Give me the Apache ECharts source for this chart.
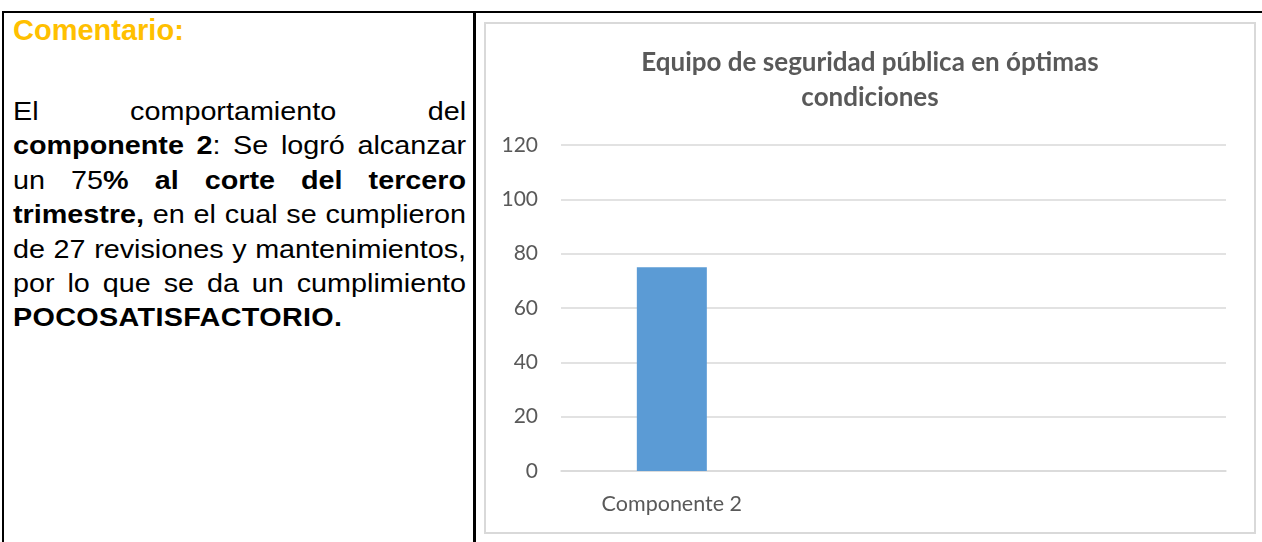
<!DOCTYPE html>
<html>
<head>
<meta charset="utf-8">
<script src="https://cdn.jsdelivr.net/npm/echarts@6/dist/echarts.min.js"></script>
<style>
  html, body { margin:0; padding:0; background:#fff; width:1262px; height:542px; overflow:hidden; }
  .ln { position:absolute; background:#000; }
  #comment { position:absolute; left:13px; top:13px; font-family:"Liberation Sans", Arial, sans-serif; font-weight:bold; font-size:29px; line-height:34px; color:#FFC000; white-space:nowrap; }
  #body { position:absolute; left:13px; top:94px; width:394px; transform:scaleX(1.15); transform-origin:0 0; font-family:"Liberation Sans", Arial, sans-serif; font-size:25px; color:#000; }
  #body .l { height:34.4px; line-height:34.4px; white-space:nowrap; text-align:justify; text-align-last:justify; }
  #body .l.last { text-align:left; text-align-last:left; letter-spacing:0.3px; }
  #chart { position:absolute; left:484px; top:22px; width:772px; height:512px; box-sizing:border-box; border:2px solid #d9d9d9; }
</style>
</head>
<body>
<div class="ln" style="left:2px; top:11px; width:1260px; height:2px;"></div>
<div class="ln" style="left:2px; top:11px; width:2px; height:531px;"></div>
<div class="ln" style="left:473px; top:11px; width:2.5px; height:531px;"></div>

<div id="comment">Comentario:</div>
<div id="body">
  <div class="l">El comportamiento del</div>
  <div class="l"><b>componente 2</b>: Se logró alcanzar</div>
  <div class="l">un 75<b>% al corte del tercero</b></div>
  <div class="l"><b>trimestre,</b> en el cual se cumplieron</div>
  <div class="l">de 27 revisiones y mantenimientos,</div>
  <div class="l">por lo que se da un cumplimiento</div>
  <div class="l last"><b>POCOSATISFACTORIO.</b></div>
</div>

<div id="chart"></div>
<script>
var chartTitle = 'Equipo de seguridad pública en óptimas\ncondiciones';
var categories = ['Componente 2', '', ''];
var values = [75, null, null];
var yMin = 0, yMax = 120, yStep = 20;

var chart = echarts.init(document.getElementById('chart'), null, { renderer: 'canvas' });
chart.setOption({
  animation: false,
  backgroundColor: '#fff',
  title: {
    text: chartTitle,
    left: 'center',
    top: 16,
    textStyle: { fontFamily: 'Lato', fontWeight: 'bold', fontSize: 26, color: '#595959', lineHeight: 35 }
  },
  grid: { left: 75, right: 28, top: 121, bottom: 61, containLabel: false },
  xAxis: {
    type: 'category',
    data: categories,
    axisLine: { show: true, lineStyle: { color: '#d9d9d9', width: 1.5 } },
    axisTick: { show: false },
    axisLabel: { color: '#595959', fontFamily: 'Lato', fontSize: 21.5, margin: 22 }
  },
  yAxis: {
    type: 'value',
    min: yMin, max: yMax, interval: yStep,
    axisLine: { show: false },
    axisTick: { show: false },
    splitLine: { lineStyle: { color: '#d9d9d9', width: 1.5 } },
    axisLabel: { color: '#595959', fontFamily: 'Lato', fontSize: 21, margin: 23 }
  },
  series: [{
    type: 'bar',
    data: values,
    barWidth: 70,
    itemStyle: { color: '#5B9BD5' }
  }]
});
</script>
</body>
</html>
